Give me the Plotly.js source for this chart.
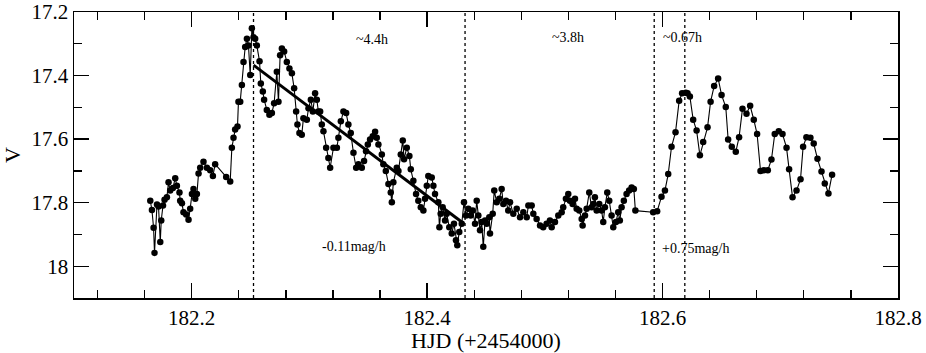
<!DOCTYPE html>
<html>
<head>
<meta charset="utf-8">
<script src="https://cdn.plot.ly/plotly-3.0.1.min.js"></script>
<style>
  html, body { margin: 0; padding: 0; background: #fff; }
  #chart { width: 926px; height: 353px; }
</style>
</head>
<body>
<div id="chart"></div>
<script>
// light curve: HJD - 2454000 and V magnitude
var hjd = [
  182.1648, 182.1662, 182.1676, 182.1684, 182.1705, 182.1718, 182.1733, 182.1741, 182.1756, 182.1769,
  182.1789, 182.1803, 182.1817, 182.1840, 182.1860, 182.1874, 182.1896, 182.1902, 182.1917, 182.1930,
  182.1953, 182.1973, 182.1987, 182.2002, 182.2015, 182.2030, 182.2044, 182.2058, 182.2072, 182.2100,
  182.2129, 182.2157, 182.2180, 182.2199, 182.2293, 182.2327, 182.2341, 182.2355, 182.2369, 182.2389,
  182.2397, 182.2412, 182.2426, 182.2440, 182.2454, 182.2469, 182.2482, 182.2497, 182.2511, 182.2525,
  182.2539, 182.2553, 182.2576, 182.2587, 182.2604, 182.2615, 182.2638, 182.2660, 182.2681, 182.2700,
  182.2723, 182.2737, 182.2751, 182.2766, 182.2785, 182.2808, 182.2830, 182.2851, 182.2870, 182.2887,
  182.2898, 182.2915, 182.2935, 182.2949, 182.2978, 182.2992, 182.3012, 182.3029, 182.3048, 182.3063,
  182.3076, 182.3091, 182.3105, 182.3119, 182.3142, 182.3161, 182.3176, 182.3204, 182.3233, 182.3246,
  182.3267, 182.3289, 182.3312, 182.3331, 182.3351, 182.3374, 182.3397, 182.3416, 182.3445, 182.3464,
  182.3481, 182.3496, 182.3515, 182.3538, 182.3558, 182.3572, 182.3586, 182.3615, 182.3628, 182.3649,
  182.3671, 182.3691, 182.3700, 182.3713, 182.3742, 182.3756, 182.3776, 182.3793, 182.3804, 182.3827,
  182.3849, 182.3861, 182.3883, 182.3906, 182.3925, 182.3946, 182.3968, 182.3982, 182.3997, 182.4010,
  182.4039, 182.4053, 182.4067, 182.4095, 182.4104, 182.4115, 182.4132, 182.4152, 182.4166, 182.4188,
  182.4209, 182.4228, 182.4245, 182.4256, 182.4273, 182.4294, 182.4313, 182.4330, 182.4350, 182.4370,
  182.4387, 182.4407, 182.4421, 182.4435, 182.4449, 182.4463, 182.4477, 182.4492, 182.4506, 182.4528,
  182.4534, 182.4557, 182.4570, 182.4591, 182.4613, 182.4633, 182.4647, 182.4670, 182.4689, 182.4704,
  182.4732, 182.4761, 182.4789, 182.4817, 182.4846, 182.4860, 182.4888, 182.4902, 182.4930, 182.4959,
  182.4986, 182.5015, 182.5043, 182.5058, 182.5086, 182.5114, 182.5143, 182.5156, 182.5179, 182.5199,
  182.5213, 182.5236, 182.5256, 182.5270, 182.5292, 182.5313, 182.5321, 182.5341, 182.5355, 182.5377,
  182.5397, 182.5411, 182.5425, 182.5440, 182.5462, 182.5482, 182.5496, 182.5510, 182.5530, 182.5547,
  182.5567, 182.5581, 182.5604, 182.5623, 182.5637, 182.5652, 182.5671, 182.5694, 182.5716, 182.5737,
  182.5756, 182.5769, 182.5920, 182.5954, 182.5991, 182.6020, 182.6048, 182.6076, 182.6110, 182.6141,
  182.6166, 182.6198, 182.6212, 182.6232, 182.6260, 182.6289, 182.6317, 182.6345, 182.6382, 182.6408,
  182.6438, 182.6472, 182.6501, 182.6537, 182.6557, 182.6588, 182.6622, 182.6650, 182.6679, 182.6713,
  182.6744, 182.6775, 182.6803, 182.6832, 182.6860, 182.6894, 182.6925, 182.6953, 182.6987, 182.7019,
  182.7053, 182.7075, 182.7104, 182.7138, 182.7172, 182.7194, 182.7222, 182.7256, 182.7284, 182.7316,
  182.7350, 182.7378, 182.7409, 182.7440
];
var vmag = [
  17.794, 17.823, 17.879, 17.958, 17.806, 17.812, 17.924, 17.856, 17.809, 17.791,
  17.783, 17.736, 17.762, 17.754, 17.723, 17.747, 17.768, 17.794, 17.802, 17.830,
  17.837, 17.854, 17.819, 17.773, 17.757, 17.788, 17.773, 17.708, 17.690, 17.671,
  17.690, 17.698, 17.716, 17.679, 17.719, 17.733, 17.627, 17.596, 17.570, 17.560,
  17.482, 17.482, 17.430, 17.357, 17.310, 17.284, 17.305, 17.398, 17.251, 17.279,
  17.284, 17.305, 17.355, 17.425, 17.450, 17.476, 17.508, 17.523, 17.518, 17.487,
  17.388, 17.482, 17.336, 17.315, 17.324, 17.357, 17.378, 17.393, 17.440, 17.513,
  17.554, 17.581, 17.586, 17.534, 17.539, 17.503, 17.476, 17.513, 17.456, 17.476,
  17.513, 17.513, 17.554, 17.575, 17.627, 17.659, 17.690, 17.627, 17.627, 17.596,
  17.544, 17.513, 17.518, 17.554, 17.581, 17.643, 17.690, 17.679, 17.690, 17.669,
  17.638, 17.617, 17.601, 17.591, 17.577, 17.596, 17.617, 17.648, 17.679, 17.700,
  17.741, 17.768, 17.799, 17.736, 17.690, 17.700, 17.648, 17.604, 17.663, 17.627,
  17.653, 17.695, 17.731, 17.773, 17.794, 17.814, 17.825, 17.788, 17.747, 17.716,
  17.721, 17.747, 17.773, 17.799, 17.877, 17.835, 17.814, 17.856, 17.835, 17.877,
  17.897, 17.866, 17.918, 17.934, 17.892, 17.866, 17.799, 17.840, 17.819, 17.840,
  17.825, 17.866, 17.794, 17.840, 17.887, 17.861, 17.939, 17.856, 17.866, 17.846,
  17.897, 17.835, 17.762, 17.799, 17.788, 17.757, 17.804, 17.794, 17.825, 17.799,
  17.835, 17.819, 17.846, 17.830, 17.846, 17.809, 17.809, 17.835, 17.851, 17.872,
  17.877, 17.866, 17.856, 17.877, 17.861, 17.840, 17.830, 17.814, 17.788, 17.773,
  17.794, 17.804, 17.788, 17.819, 17.825, 17.851, 17.872, 17.840, 17.819, 17.768,
  17.814, 17.804, 17.783, 17.825, 17.804, 17.825, 17.861, 17.814, 17.768, 17.794,
  17.840, 17.877, 17.861, 17.830, 17.856, 17.814, 17.794, 17.773, 17.762, 17.752,
  17.757, 17.825, 17.830, 17.827, 17.781, 17.762, 17.710, 17.624, 17.578, 17.479,
  17.456, 17.454, 17.456, 17.466, 17.539, 17.573, 17.651, 17.609, 17.563, 17.482,
  17.433, 17.409, 17.461, 17.499, 17.601, 17.624, 17.640, 17.594, 17.504, 17.520,
  17.495, 17.539, 17.584, 17.700, 17.698, 17.698, 17.664, 17.584, 17.575, 17.584,
  17.627, 17.695, 17.783, 17.762, 17.726, 17.624, 17.594, 17.596, 17.614, 17.662,
  17.702, 17.740, 17.771, 17.712
];

// linear decline fit (-0.11 mag/h)
var fitX = [182.2525, 182.4294];
var fitV = [17.367, 17.861];

// dotted markers of the time intervals
var markX = [182.2525, 182.4322, 182.5929, 182.6189];

// axis ticks
var xTicks = [182.2, 182.4, 182.6, 182.8];
var xLabels = ["182.2", "182.4", "182.6", "182.8"];
var yTicks = [17.2, 17.4, 17.6, 17.8, 18.0];
var yLabels = ["17.2", "17.4", "17.6", "17.8", "18"];

// text labels: [x, V, text]
var notes = [
  [182.3534, 17.285, "~4.4h"],
  [182.5197, 17.279, "~3.8h"],
  [182.6168, 17.279, "~0.67h"],
  [182.3379, 17.937, "-0.11mag/h"],
  [182.6283, 17.943, "+0.75mag/h"]
];

var FONT = '"Liberation Serif", "Times New Roman", serif';

var traces = [
  { x: hjd, y: vmag, mode: "lines+markers", line: { color: "#000", width: 1.1 },
    marker: { color: "#000", size: 6.5 }, showlegend: false, hoverinfo: "skip" },
  { x: fitX, y: fitV, mode: "lines", line: { color: "#000", width: 3 },
    showlegend: false, hoverinfo: "skip" }
];

var shapes = markX.map(function (x) {
  return { type: "line", xref: "x", yref: "paper", x0: x, x1: x, y0: 0, y1: 1,
    line: { color: "#000", width: 1.3, dash: "dot" } };
});

var annotations = notes.map(function (n) {
  return { x: n[0], y: n[1], xref: "x", yref: "y", text: n[2], showarrow: false,
    font: { family: FONT, size: 14, color: "#000" } };
});

var axisBase = {
  showline: true, linecolor: "#000", linewidth: 1.5, mirror: "allticks",
  ticks: "inside", ticklen: 15, tickwidth: 1.3, tickcolor: "#000",
  showgrid: false, zeroline: false, ticklabeloverflow: "allow",
  tickfont: { family: FONT, size: 21, color: "#000" }
};

var layout = {
  width: 926, height: 353,
  margin: { l: 74, r: 28, t: 12, b: 55 },
  paper_bgcolor: "#fff", plot_bgcolor: "#fff",
  font: { family: FONT, color: "#000" },
  xaxis: Object.assign({}, axisBase, {
    range: [182.1, 182.8], tickmode: "array", tickvals: xTicks, ticktext: xLabels,
    minor: { ticks: "inside", ticklen: 8, tickwidth: 1.3, tickcolor: "#000", dtick: 0.04, tick0: 182.0, showgrid: false },
    title: { text: "HJD (+2454000)", font: { family: FONT, size: 22, color: "#000" }, standoff: 4 }
  }),
  yaxis: Object.assign({}, axisBase, {
    range: [18.1, 17.1999], tickmode: "array", tickvals: yTicks, ticktext: yLabels,
    minor: { ticks: "inside", ticklen: 8, tickwidth: 1.3, tickcolor: "#000", dtick: 0.1, tick0: 17.0, showgrid: false },
    title: { text: "V", font: { family: FONT, size: 22, color: "#000" }, standoff: 6 }
  }),
  shapes: shapes,
  annotations: annotations
};

Plotly.newPlot("chart", traces, layout, { displayModeBar: false, staticPlot: true });
</script>
</body>
</html>
